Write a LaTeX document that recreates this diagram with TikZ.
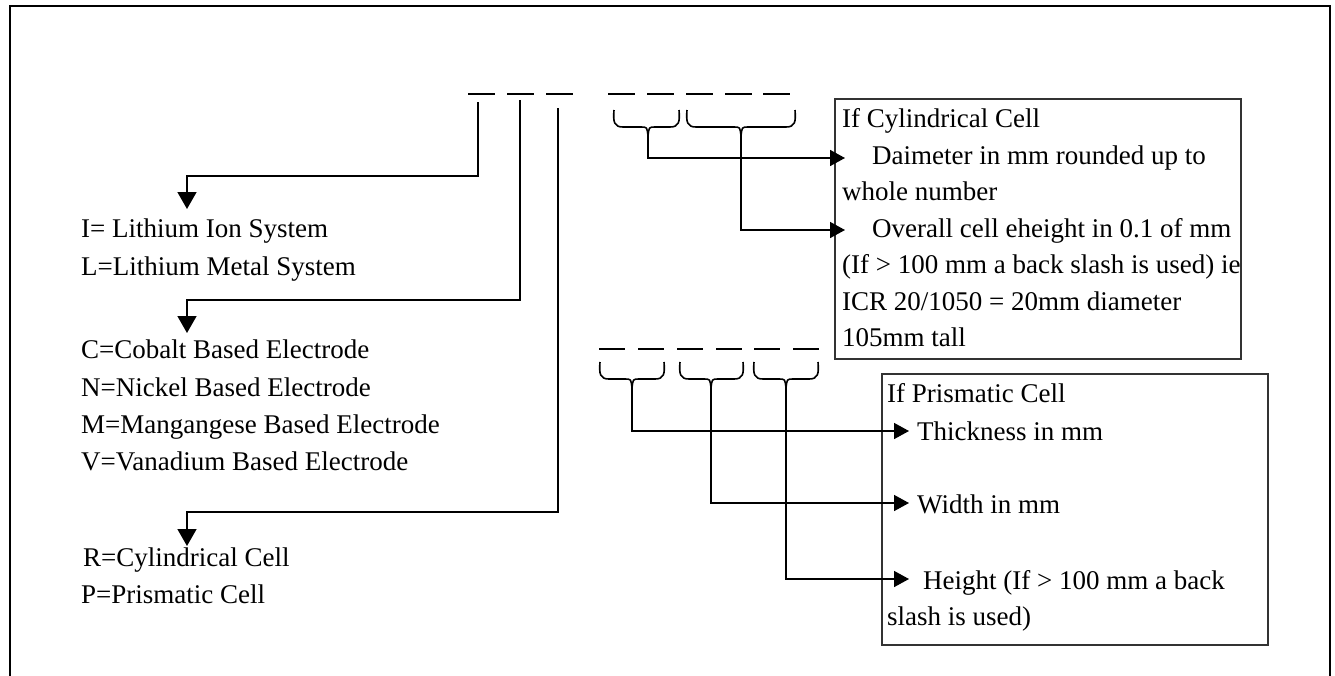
\documentclass[tikz,border=0pt]{standalone}
\usepackage{fontspec}
\setmainfont{Liberation Serif}
\usetikzlibrary{arrows.meta}

\tikzset{
  lbl/.style={anchor=base west, inner sep=0pt},
  infobox/.style={draw=black!80, line width=1.6pt, anchor=north west, inner sep=0pt},
  blank/.style={line width=1.6pt},
  brace/.style={line width=1.6pt, line join=round},
  pointer/.style={line width=1.6pt, -{Triangle[length=17pt,width=19pt]}},
  feed/.style={line width=1.6pt, -{Triangle[length=15pt,width=16pt]}},
}

\begin{document}
\begin{tikzpicture}[x=1pt, y=-1pt, every node/.style={font=\fontsize{27}{36}\selectfont}]
    \useasboundingbox (0,0) rectangle (1335,675);
    % moldura
    \draw[line width=2.2pt] (10,690) -- (10,6) -- (1330,6) -- (1330,690);
    % caixas da direita
    \node[infobox, minimum width=406pt, minimum height=260pt] (cylbox) at (834,98) {};
    \node[infobox, minimum width=386pt, minimum height=271pt] (prbox) at (881,373) {};
    % tracos do codigo
    \foreach \x in {468,507,546,608,647,686,725,763} \draw[blank] (\x,94) -- ++(27,0);
    \foreach \x in {599,638,677,716,754,793} \draw[blank] (\x,349) -- ++(26,0);
    % chaves
    \foreach \a/\m/\b/\t [count=\i] in {614/648/679/110, 687/741/795/110, 600/632/664/362, 680/711/743/362, 754/786/818/362} {
        \draw[brace] (\a,\t) .. controls (\a-1,\t+12) and (\a,\t+17) .. (\a+9,\t+17) -- (\m-7,\t+17)
            .. controls (\m-1,\t+17) .. (\m,\t+26) .. controls (\m+1,\t+17) .. (\m+7,\t+17)
            -- (\b-9,\t+17) .. controls (\b,\t+17) and (\b+1,\t+12) .. (\b,\t);
        \coordinate (br\i) at (\m,\t+26);
    }
    % textos da esquerda
    \node[lbl] (lion) at (81,237) {I= Lithium Ion System};
    \node[lbl] (lmet) at (81,275) {L=Lithium Metal System};
    \node[lbl] (eco) at (81,358) {C=Cobalt Based Electrode};
    \node[lbl] (eni) at (81,396) {N=Nickel Based Electrode};
    \node[lbl] (emn) at (81,433) {M=Mangangese Based Electrode};
    \node[lbl] (eva) at (81,470) {V=Vanadium Based Electrode};
    \node[lbl] (rcy) at (83,566) {R=Cylindrical Cell};
    \node[lbl] (ppr) at (81,603) {P=Prismatic Cell};
    % celula cilindrica
    \node[lbl] (cyhead) at (842,127) {If Cylindrical Cell};
    \node[lbl] (cydia) at (872,164) {Daimeter in mm rounded up to};
    \node[lbl] (cywhole) at (842,200) {whole number};
    \node[lbl] (cyht) at (872,237) {Overall cell eheight in 0.1 of mm};
    \node[lbl] (cyslash) at (842,273) {(If > 100 mm a back slash is used) ie};
    \node[lbl] (cyicr) at (842,310) {ICR 20/1050 = 20mm diameter};
    \node[lbl] (cytall) at (842,346) {105mm tall};
    % celula prismatica
    \node[lbl] (prhead) at (887,402) {If Prismatic Cell};
    \node[lbl] (prthk) at (917,440) {Thickness in mm};
    \node[lbl] (prwd) at (917,513) {Width in mm};
    \node[lbl] (prht) at (923,589) {Height (If > 100 mm a back};
    \node[lbl] (prslash) at (887,625) {slash is used)};
    % pontas
    \coordinate (c1) at (478,102);
    \coordinate (c2) at (520,100);
    \coordinate (c3) at (558,108);
    \coordinate (t1) at (187,209);
    \coordinate (t2) at (187,333);
    \coordinate (t3) at (187,546);
    \coordinate (s1) at (845,158);
    \coordinate (s2) at (845,230);
    \coordinate (s3) at (909,431);
    \coordinate (s4) at (909,503);
    \coordinate (s5) at (909,579);
    % ligacoes
    \draw[pointer] (c1) -- ++(0,74) -| (t1);
    \draw[pointer] (c2) -- ++(0,200) -| (t2);
    \draw[pointer] (c3) -- ++(0,404) -| (t3);
    \foreach \i in {1,...,5} \draw[feed] (br\i) |- (s\i);
\end{tikzpicture}
\end{document}
